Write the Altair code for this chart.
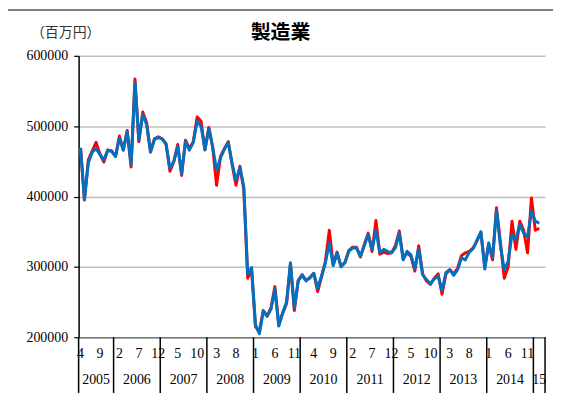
import altair as alt
import pandas as pd

# Monthly values, Apr 2005 .. Feb 2015 (百万円)
blue = [469000, 396000, 448000, 463000, 468000, 460000, 452000, 466000, 464000, 457000,
        483000, 466000, 492000, 445000, 562000, 480000, 517000, 502000, 464000, 481000,
        484000, 482000, 474000, 440000, 450000, 471000, 433000, 478000, 466000, 477000,
        507000, 500000, 467000, 497000, 470000, 437000, 455000, 467000, 477000, 447000,
        423000, 441000, 414000, 290000, 299000, 218000, 205000, 237000, 230000, 240000,
        268000, 216000, 235000, 250000, 306000, 242000, 280000, 288000, 280000, 285000,
        291000, 270000, 287000, 306000, 334000, 302000, 320000, 300000, 306000, 322000,
        327000, 327000, 315000, 330000, 346000, 325000, 352000, 320000, 325000, 322000,
        320000, 327000, 348000, 310000, 322000, 317000, 297000, 326000, 289000, 282000,
        276000, 283000, 287000, 266000, 292000, 296000, 288000, 296000, 313000, 310000,
        321000, 326000, 338000, 350000, 297000, 334000, 313000, 381000, 331000, 296000,
        308000, 346000, 339000, 360000, 348000, 343000, 379000, 365000, 362000]
red = [469000, 395000, 452000, 465000, 477000, 460000, 449000, 466000, 465000, 457000,
       486000, 466000, 494000, 442000, 567000, 478000, 520000, 505000, 463000, 482000,
       485000, 482000, 475000, 436000, 450000, 474000, 430000, 480000, 468000, 478000,
       513000, 507000, 466000, 498000, 470000, 416000, 457000, 468000, 478000, 445000,
       416000, 443000, 410000, 284000, 297000, 215000, 208000, 238000, 230000, 242000,
       272000, 218000, 234000, 248000, 304000, 238000, 281000, 289000, 281000, 284000,
       291000, 265000, 286000, 308000, 352000, 303000, 321000, 301000, 306000, 323000,
       328000, 328000, 314000, 332000, 348000, 322000, 366000, 318000, 321000, 319000,
       320000, 330000, 351000, 312000, 320000, 315000, 294000, 330000, 290000, 280000,
       275000, 284000, 290000, 261000, 290000, 296000, 290000, 298000, 316000, 320000,
       322000, 327000, 337000, 349000, 300000, 332000, 310000, 384000, 336000, 284000,
       300000, 365000, 325000, 365000, 352000, 320000, 398000, 352000, 355000]

month_labels = ["4", "9", "2", "7", "12", "5", "10", "3", "8", "1", "6", "11"] * 2
year_labels = ["2005", "2006", "2007", "2008", "2009", "2010", "2011", "2012",
               "2013", "2014", "15"]
year_bounds = [0, 9, 21, 33, 45, 57, 69, 81, 93, 105, 117, 120]
y_ticks = [200000, 300000, 400000, 500000, 600000]

W, H = 469, 283
SERIF = "Liberation Serif"
CJK = "Noto Sans CJK JP"

df = pd.DataFrame({"t": [i + 0.5 for i in range(len(blue))], "blue": blue, "red": red})

xs = alt.Scale(domain=[0, 120], nice=False, zero=False)
ys = alt.Scale(domain=[200000, 600000], nice=False, zero=False)

red_line = alt.Chart(df).mark_line(strokeWidth=3, strokeJoin="round", color="#ff0000").encode(
    x=alt.X("t:Q", scale=xs,
            axis=alt.Axis(labels=False, ticks=False, grid=False, title=None,
                          domainColor="#777777", domainWidth=1.5)),
    y=alt.Y("red:Q", scale=ys,
            axis=alt.Axis(values=y_ticks, title=None, grid=True, format="d",
                          gridColor="#c0c0c0", gridWidth=1.5,
                          domainColor="#000000", domainWidth=1.5,
                          tickColor="#000000", tickSize=5, tickWidth=1.2,
                          labelFont=SERIF, labelFontSize=14, labelColor="#000000",
                          labelPadding=6)),
)
blue_line = alt.Chart(df).mark_line(strokeWidth=3, strokeJoin="round", color="#0070c0").encode(
    x=alt.X("t:Q", scale=xs),
    y=alt.Y("blue:Q", scale=ys),
)

mdf = pd.DataFrame({"t": [i * 5 + 0.5 for i in range(len(month_labels))],
                    "lab": month_labels})
months = alt.Chart(mdf).mark_text(font=SERIF, fontSize=14, color="#000000",
                                  baseline="middle", align="center").encode(
    x=alt.X("t:Q", scale=xs), y=alt.value(H + 17), text="lab:N")

ydf = pd.DataFrame({
    "t": [(year_bounds[k] + year_bounds[k + 1]) / 2 for k in range(len(year_labels))],
    "lab": year_labels})
years = alt.Chart(ydf).mark_text(font=SERIF, fontSize=14, color="#000000",
                                 baseline="middle", align="center").encode(
    x=alt.X("t:Q", scale=xs), y=alt.value(H + 43), text="lab:N")

bdf = pd.DataFrame({"t": year_bounds})
seps = alt.Chart(bdf).mark_rule(color="#000000", strokeWidth=1.5).encode(
    x=alt.X("t:Q", scale=xs), y=alt.value(H), y2=alt.value(H + 56))

tdf = pd.DataFrame({"lab": ["製造業"]})
title = alt.Chart(tdf).mark_text(font=CJK, fontSize=20, fontWeight="bold",
                                 color="#000000", align="center",
                                 baseline="middle").encode(
    x=alt.value(203), y=alt.value(-23), text="lab:N")

udf = pd.DataFrame({"lab": ["（百万円）"]})
unit = alt.Chart(udf).mark_text(font=CJK, fontSize=14, color="#333333",
                                align="center", baseline="middle").encode(
    x=alt.value(-13), y=alt.value(-23), text="lab:N")

top = alt.Chart(pd.DataFrame({"k": [0]})).mark_rule(color="#555555", strokeWidth=1.5).encode(
    x=alt.value(-71), x2=alt.value(W + 8), y=alt.value(-46))

chart = alt.layer(red_line, blue_line, seps, months, years, title, unit, top).properties(
    width=W, height=H,
    padding={"left": 71, "top": 47, "right": 8, "bottom": 60},
    autosize=alt.AutoSizeParams(type="none"),
).configure_view(stroke=None)

chart.save("out.html", embed_options={"renderer": "svg", "actions": False})
